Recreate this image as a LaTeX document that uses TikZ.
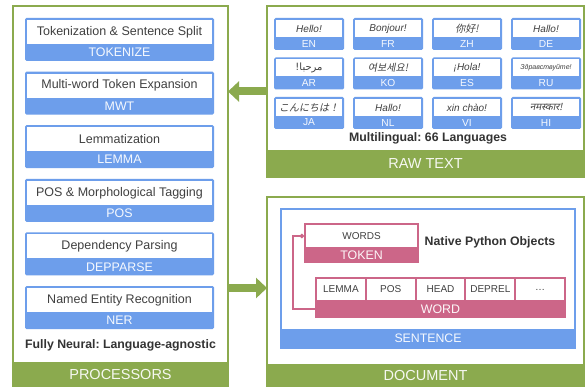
\documentclass[tikz,border=0pt]{standalone}
\usepackage{fontspec}
\setmainfont{Liberation Sans}
\newfontfamily\zhfont[AutoFakeSlant=0.2]{Noto Sans CJK SC}
\newfontfamily\jafont[AutoFakeSlant=0.2]{Noto Sans CJK JP}
\newfontfamily\kofont[AutoFakeSlant=0.2]{Noto Sans CJK KR}
\newfontfamily\arabicfont[Script=Arabic]{DejaVu Sans}
\newfontfamily\hindifont[Script=Devanagari, ItalicFont={Noto Sans}, ItalicFeatures={FakeSlant=0.2}]{Noto Sans}
\TeXXeTstate=1
\frenchspacing
\usetikzlibrary{arrows.meta, positioning}
\definecolor{panelgreen}{RGB}{139,170,78}
\definecolor{boxblue}{RGB}{109,158,235}
\definecolor{objpink}{RGB}{204,102,136}
\definecolor{textgray}{RGB}{64,64,64}

\begin{document}
\begin{tikzpicture}[
      x=1pt, y=-1pt,
      % Panel styles
      panel/.style={
          draw=panelgreen, line width=2pt, fill=white,
          inner sep=0pt, outer sep=0pt, anchor=north west,
        },
      panel band/.style={
          fill=panelgreen, inner sep=0pt, outer sep=0pt, anchor=south,
          text=white!92!panelgreen, font=\fontsize{14.5}{16}\selectfont,
        },
      % Box styles
      proc box/.style={
          fill=boxblue, inner sep=0pt, outer sep=0pt, anchor=north west,
          rounded corners=1.5pt, minimum width=189pt, minimum height=43pt,
        },
      lang box/.style={
          proc box, minimum width=70pt, minimum height=32pt,
        },
      obj box/.style={
          fill=objpink, inner sep=0pt, outer sep=0pt, anchor=north west,
        },
      white cell/.style={
          fill=white, inner sep=0pt, outer sep=0pt, anchor=north,
          text=textgray,
        },
      band label/.style={
          inner sep=0pt, text=white!94!boxblue,
          font=\fontsize{12.4}{14}\selectfont,
        },
      bold label/.style={
          text=textgray!80!black, font=\bfseries\fontsize{12.3}{14}\selectfont,
        },
      % Connector styles
      big arrow/.style={
          draw=panelgreen, line width=8pt, -{Triangle[length=11pt, width=20pt]},
        },
      obj link/.style={
          draw=objpink, line width=1.2pt, -{Circle[length=4.5pt]},
        },
    ]
    \useasboundingbox (0,0) rectangle (585,387);

    % --- Panels ---
    \node[panel, minimum width=215pt, minimum height=382pt] (proc) at (13,6) {};
    \node[panel band, minimum width=215pt, minimum height=26pt] (procband) at (proc.south) {PROCESSORS};
    \node[panel, minimum width=317pt, minimum height=171pt] (raw) at (267,6) {};
    \node[panel band, minimum width=317pt, minimum height=27pt] (rawband) at (raw.south) {RAW TEXT};
    \node[panel, minimum width=317pt, minimum height=191pt] (doc) at (267,197) {};
    \node[panel band, minimum width=317pt, minimum height=24pt] (docband) at (doc.south) {DOCUMENT};

    % --- Processors ---
    \foreach \full/\short [count=\i from 0] in {Tokenization \& Sentence Split/TOKENIZE, Multi-word Token Expansion/MWT, Lemmatization/LEMMA, POS \& Morphological Tagging/POS, Dependency Parsing/DEPPARSE, Named Entity Recognition/NER} {
        \node[proc box] (p\i) at (25, 18+53.6*\i) {};
        \node[white cell, minimum width=185pt, minimum height=24pt, font=\fontsize{12.5}{14}\selectfont] (p\i top) at ([yshift=-2pt]p\i.north) {\full};
        \node[band label] (p\i band) at ([yshift=8.5pt]p\i.south) {\short};
      }
    \node[bold label] (neural) at (120.5,345) {Fully Neural: Language-agnostic};

    % --- Languages ---
    \foreach \word/\code [count=\k from 0] in {Hello!/EN, Bonjour!/FR, {\zhfont 你好!}/ZH, Hallo!/DE, {\arabicfont\upshape\beginR مرحبا!\endR}/AR, {\kofont 여보세요!}/KO, ¡Hola!/ES, {\fontsize{7}{8}\selectfont Здравствуйте!}/RU, {\jafont こんにちは！}/JA, Hallo!/NL, xin chào!/VI, {\hindifont नमस्कार!}/HI} {
        \pgfmathtruncatemacro\col{mod(\k,4)}
        \pgfmathtruncatemacro\row{\k/4}
        \node[lang box] (l\k) at (274+79*\col, 18+39.5*\row) {};
        \node[white cell, minimum width=66pt, minimum height=17pt, font=\itshape\fontsize{10}{12}\selectfont] (l\k top) at ([yshift=-2pt]l\k.north) {\word};
        \node[band label, font=\fontsize{10.2}{12}\selectfont] (l\k band) at ([yshift=6.5pt]l\k.south) {\code};
      }
    \node[bold label] (multi) at (428,138) {Multilingual: 66 Languages};

    % --- Document objects ---
    \node[panel, draw=boxblue, minimum width=294pt, minimum height=139pt] (sent) at (281,209) {};
    \node[panel band, fill=boxblue, minimum width=294pt, minimum height=19pt, text=white!94!boxblue, font=\fontsize{12.3}{14}\selectfont] (sentband) at (sent.south) {SENTENCE};

    \node[obj box, minimum width=115pt, minimum height=40pt] (token) at (304,223) {};
    \node[white cell, minimum width=111pt, minimum height=22pt, font=\fontsize{10}{12}\selectfont] (tokwords) at ([yshift=-2pt]token.north) {WORDS};
    \node[band label, text=white!94!objpink] (tokband) at ([yshift=8pt]token.south) {TOKEN};
    \node[bold label] (native) at (490,242) {Native Python Objects};

    \node[obj box, minimum width=251pt, minimum height=41pt] (word) at (315,277) {};
    \foreach \f [count=\j from 0] in {LEMMA, POS, HEAD, DEPREL, \ldots} {
        \node[white cell, anchor=north west, minimum width=47.8pt, minimum height=21pt, font=\fontsize{10}{12}\selectfont] (w\j) at (317+49.8*\j, 279) {\f};
      }
    \node[band label, text=white!94!objpink] (wordband) at ([yshift=9pt]word.south) {WORD};

    \draw[obj link] (word.west |- wordband) -- ++(-22,0) |- (token.west |- tokwords);

    % --- Flow arrows ---
    \coordinate (docin) at (267,288);
    \draw[big arrow] (raw.west) -- (proc.east |- raw.west);
    \draw[big arrow] (proc.east |- docin) -- (docin);
  \end{tikzpicture}
\end{document}
